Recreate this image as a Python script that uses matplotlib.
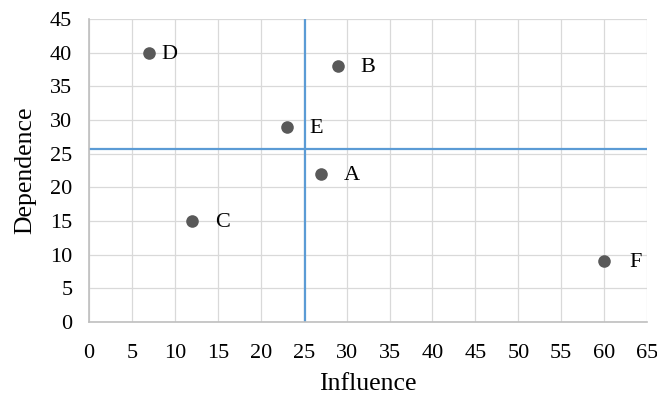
import matplotlib.pyplot as plt

names = ["A", "B", "C", "D", "E", "F"]
influence = [27, 29, 12, 7, 23, 60]
dependence = [22, 38, 15, 40, 29, 9]
label_dx = [31, 30, 31, 20, 30, 31]  # label offsets in px
x_split = 25.2
y_split = 25.65

plt.rcParams["font.family"] = ["Liberation Serif", "DejaVu Serif"]

fig = plt.figure(figsize=(6.57, 4.0), dpi=100)
ax = fig.add_axes([0.1355, 0.195, 0.8495, 0.7575])

ax.scatter(influence, dependence, s=82, color="#595959", zorder=3, linewidths=0)
for n, x, y, dx in zip(names, influence, dependence, label_dx):
    ax.annotate(n, (x, y), xytext=(dx * 0.72, -1), textcoords="offset points",
                ha="center", va="center", fontsize=16)

ax.axvline(x_split, color="#5B9BD5", lw=1.6, zorder=2)
ax.axhline(y_split, color="#5B9BD5", lw=1.6, zorder=2)

ax.set_xlim(0, 65)
ax.set_ylim(0, 45)
ax.set_xticks(range(0, 66, 5))
ax.set_yticks(range(0, 46, 5))
ax.grid(True, color="#D9D9D9", lw=0.9)
ax.set_axisbelow(True)
for s in ["top", "right"]:
    ax.spines[s].set_visible(False)
for s in ["left", "bottom"]:
    ax.spines[s].set_color("#BFBFBF")
    ax.spines[s].set_linewidth(1.2)
ax.tick_params(axis="x", length=0, labelsize=16, pad=16)
ax.tick_params(axis="y", length=0, labelsize=16, pad=12)
ax.set_xlabel("Influence", fontsize=18.5, labelpad=7)
ax.set_ylabel("Dependence", fontsize=18.5, labelpad=10)

fig.savefig("out.png", dpi=100)
